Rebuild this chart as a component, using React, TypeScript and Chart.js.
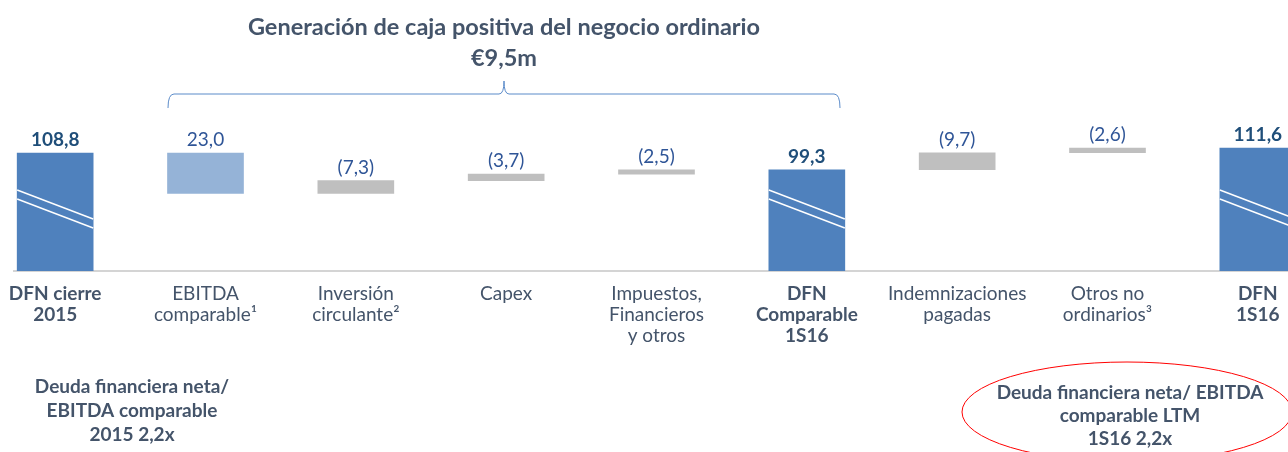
import React, { useEffect, useRef } from "react";
import { Chart, registerables } from "chart.js";
Chart.register(...registerables);

const categories: string[][] = [
  ["DFN cierre", "2015"],
  ["EBITDA", "comparable¹"],
  ["Inversión", "circulante²"],
  ["Capex"],
  ["Impuestos,", "Financieros", "y otros"],
  ["DFN", "Comparable", "1S16"],
  ["Indemnizaciones", "pagadas"],
  ["Otros no", "ordinarios³"],
  ["DFN", "1S16"],
];
const isTotal = [true, false, false, false, false, true, false, false, true];
const values = [108.8, 23.0, -7.3, -3.7, -2.5, 99.3, -9.7, -2.6, 111.6];
const axisMin = 41.4;
const axisMax = 122;
const titleLines = ["Generación de caja positiva del negocio ordinario", "€9,5m"];
const noteLeft = ["Deuda financiera neta/", "EBITDA comparable", "2015 2,2x"];
const noteRight = ["Deuda financiera neta/ EBITDA", "comparable LTM", "1S16 2,2x"];

const FONT = "Lato, 'Open Sans', sans-serif";
const TEXT = "#44546A";
const TOTAL_BLUE = "#4F81BD";
const POS_BLUE = "#95B3D7";
const NEG_GRAY = "#BFBFBF";
const SHIFT = 20; // canvas starts 20px left of the page

const fmtNum = (v: number) => Math.abs(v).toFixed(1).replace(".", ",");
const fmt = (v: number, total: boolean) =>
  total ? fmtNum(v) : v < 0 ? `(${fmtNum(v)})` : fmtNum(v);

function buildRanges() {
  const ranges: [number, number][] = [];
  let running = 0;
  values.forEach((v, i) => {
    if (isTotal[i]) {
      ranges.push([axisMin, v]);
      running = v;
    } else {
      const next = running - v;
      ranges.push([Math.min(running, next), Math.max(running, next)]);
      running = next;
    }
  });
  return ranges;
}

const overlay = {
  id: "overlay",
  beforeDatasetsDraw(chart: any) {
    const ctx = chart.ctx;
    const base = chart.chartArea.bottom;
    ctx.save();
    ctx.strokeStyle = "#C6C6C6";
    ctx.lineWidth = 1.5;
    ctx.beginPath();
    ctx.moveTo(13 + SHIFT, base);
    ctx.lineTo(chart.width, base);
    ctx.stroke();
    ctx.restore();
  },
  afterDatasetsDraw(chart: any) {
    const ctx = chart.ctx;
    const meta = chart.getDatasetMeta(0);
    const base = chart.chartArea.bottom;
    ctx.save();
    meta.data.forEach((el: any, i: number) => {
      const props = el.getProps(["x", "y", "width", "base"], true);
      const top = Math.min(props.y, props.base);
      const total = isTotal[i];
      // value label
      ctx.font = `${total ? "bold" : "normal"} 19px ${FONT}`;
      ctx.fillStyle = total ? "#1F4E79" : "#2F5597";
      ctx.textAlign = "center";
      ctx.textBaseline = "middle";
      ctx.fillText(fmt(values[i], total), props.x, top - 13);
      // break marks
      if (total) {
        const l = props.x - props.width / 2;
        const r = props.x + props.width / 2;
        ctx.strokeStyle = "#FFFFFF";
        ctx.lineWidth = 1.4;
        [81, 72].forEach((off) => {
          ctx.beginPath();
          ctx.moveTo(l, base - off);
          ctx.lineTo(r, base - off + 29);
          ctx.stroke();
        });
      }
    });
    ctx.restore();
  },
  afterDraw(chart: any) {
    const ctx = chart.ctx;
    ctx.save();
    ctx.fillStyle = TEXT;
    ctx.textAlign = "center";
    ctx.textBaseline = "middle";
    ctx.font = `bold 23.5px ${FONT}`;
    ctx.fillText(titleLines[0], 504 + SHIFT, 27);
    ctx.fillText(titleLines[1], 504 + SHIFT, 58);
    // brace
    const L = 168 + SHIFT, M = 504 + SHIFT, R = 840 + SHIFT, Y = 94;
    ctx.strokeStyle = "#5B8BC9";
    ctx.lineWidth = 1;
    ctx.beginPath();
    ctx.moveTo(L, 108);
    ctx.quadraticCurveTo(L, Y, L + 6, Y);
    ctx.lineTo(M - 5, Y);
    ctx.quadraticCurveTo(M, Y, M, 81);
    ctx.quadraticCurveTo(M, Y, M + 5, Y);
    ctx.lineTo(R - 6, Y);
    ctx.quadraticCurveTo(R, Y, R, 108);
    ctx.stroke();
    // notes
    ctx.font = `bold 19px ${FONT}`;
    noteLeft.forEach((t, k) => ctx.fillText(t, 132 + SHIFT, 387 + k * 24));
    noteRight.forEach((t, k) => ctx.fillText(t, 1130 + SHIFT, 393 + k * 23));
    ctx.strokeStyle = "#FF0000";
    ctx.lineWidth = 1;
    ctx.beginPath();
    ctx.ellipse(1127 + SHIFT, 412, 165, 50, 0, 0, Math.PI * 2);
    ctx.stroke();
    ctx.restore();
  },
};

export default function App() {
  const ref = useRef<HTMLCanvasElement>(null);
  useEffect(() => {
    if (!ref.current) return;
    const ranges = buildRanges();
    const colors = values.map((v, i) =>
      isTotal[i] ? TOTAL_BLUE : v >= 0 ? POS_BLUE : NEG_GRAY
    );
    const chart = new Chart(ref.current, {
      type: "bar",
      data: {
        labels: categories,
        datasets: [
          {
            data: ranges as any,
            backgroundColor: colors,
            borderWidth: 0,
            barThickness: 76,
          },
        ],
      },
      options: {
        animation: false,
        responsive: false,
        layout: { padding: { top: 130, left: 0, right: 0, bottom: 0 } },
        plugins: { legend: { display: false }, tooltip: { enabled: false } },
        scales: {
          x: {
            grid: { display: false, drawTicks: false },
            border: { display: false },
            ticks: {
              autoSkip: false,
              maxRotation: 0,
              minRotation: 0,
              padding: 12,
              color: TEXT,
              font: (c: any) => ({
                family: FONT,
                size: 19,
                weight: isTotal[c.index] ? "bold" : "normal",
                lineHeight: 1.12,
              }),
            },
            afterFit: (s: any) => {
              s.height = 181;
            },
          },
          y: {
            display: false,
            min: axisMin,
            max: axisMax,
          },
        },
      },
      plugins: [overlay],
    });
    return () => chart.destroy();
  }, []);
  return (
    <div
      style={{
        position: "fixed",
        left: 0,
        top: 0,
        width: 1288,
        height: 452,
        overflow: "hidden",
        background: "#FFFFFF",
      }}
    >
      <canvas
        ref={ref}
        width={1353}
        height={452}
        style={{ position: "absolute", left: -SHIFT, top: 0, width: 1353, height: 452 }}
      />
    </div>
  );
}
